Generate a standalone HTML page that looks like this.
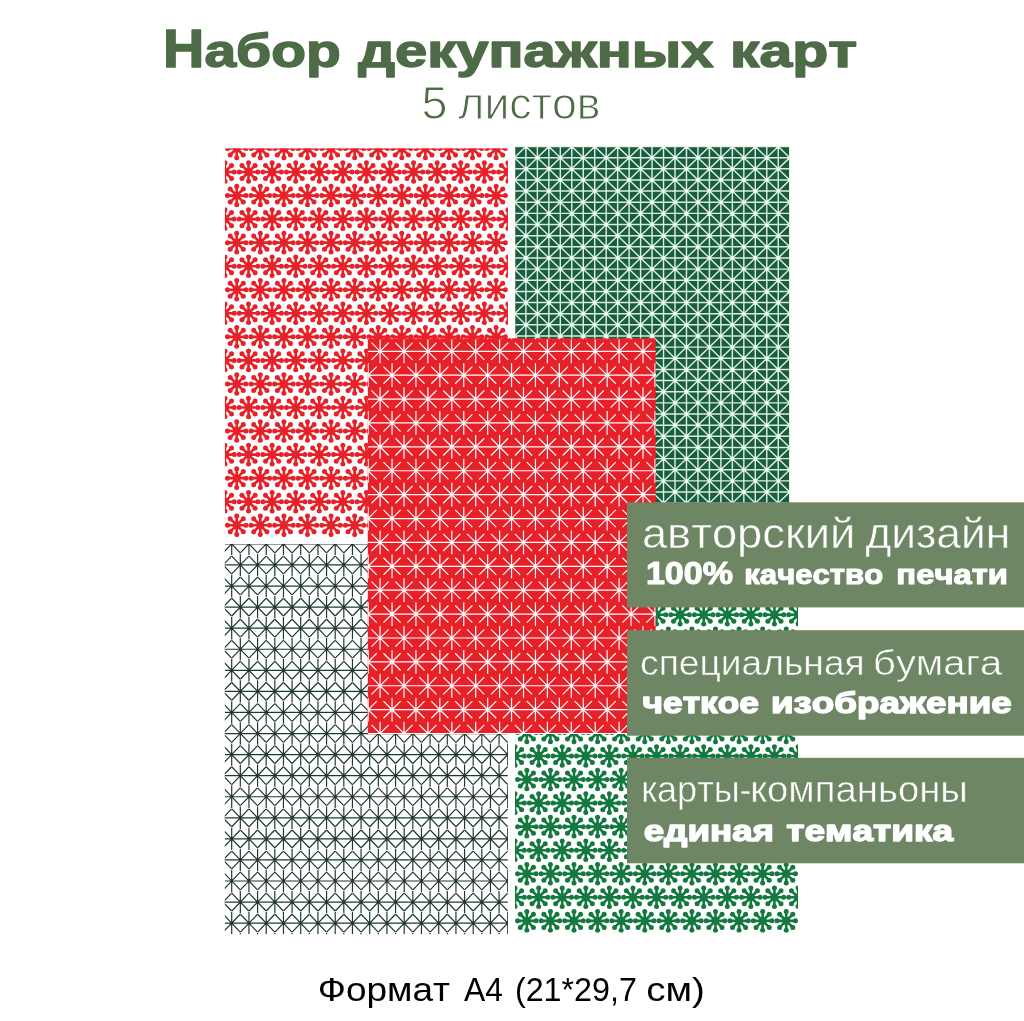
<!DOCTYPE html>
<html lang="ru"><head><meta charset="utf-8"><title>Набор декупажных карт</title>
<style>
html,body{margin:0;padding:0;background:#fff}
svg{display:block}
text{font-family:"Liberation Sans",sans-serif;stroke-linejoin:round;font-kerning:none;white-space:pre}
</style></head><body>
<svg width="1024" height="1021" viewBox="0 0 1024 1021">
<defs>
<g id="fl"><path d="M0 0L9.29 0M0 0L6.57 6.57M0 0L0 9.29M0 0L-6.57 6.57M0 0L-9.29 0M0 0L-6.57 -6.57M0 0L-0 -9.29M0 0L6.57 -6.57" stroke-width="2.65" fill="none"/><g stroke="none"><circle cx="9.29" cy="0" r="2.5"/><circle cx="6.57" cy="6.57" r="2.5"/><circle cx="0" cy="9.29" r="2.5"/><circle cx="-6.57" cy="6.57" r="2.5"/><circle cx="-9.29" cy="0" r="2.5"/><circle cx="-6.57" cy="-6.57" r="2.5"/><circle cx="-0" cy="-9.29" r="2.5"/><circle cx="6.57" cy="-6.57" r="2.5"/><circle r="3.9"/></g></g>
<g id="sc"><path d="M0 -11.9V11.9M-8.6 -8.6L8.6 8.6M-8.6 8.6L8.6 -8.6" stroke-width="1.2" fill="none"/><circle r="1.5" stroke="none"/></g>
<g id="sk"><path d="M0 -11.2V11.2M-8.55 -8.9L8.55 8.9M-8.55 8.9L8.55 -8.9" stroke-width="1.2" fill="none"/><circle r="1.4" stroke="none"/></g>
</defs>
<rect width="1024" height="1021" fill="#fff"/>
<clipPath id="cTL"><rect x="224.95" y="148.45" width="282.95" height="388.55"/></clipPath><g clip-path="url(#cTL)" fill="#e82129" stroke="#e82129"><use href="#fl" x="236.74" y="148.45"/><use href="#fl" x="260.32" y="148.45"/><use href="#fl" x="283.9" y="148.45"/><use href="#fl" x="307.48" y="148.45"/><use href="#fl" x="331.06" y="148.45"/><use href="#fl" x="354.64" y="148.45"/><use href="#fl" x="378.22" y="148.45"/><use href="#fl" x="401.8" y="148.45"/><use href="#fl" x="425.38" y="148.45"/><use href="#fl" x="448.96" y="148.45"/><use href="#fl" x="472.54" y="148.45"/><use href="#fl" x="496.12" y="148.45"/><use href="#fl" x="519.7" y="148.45"/><use href="#fl" x="224.95" y="172"/><use href="#fl" x="248.53" y="172"/><use href="#fl" x="272.11" y="172"/><use href="#fl" x="295.69" y="172"/><use href="#fl" x="319.27" y="172"/><use href="#fl" x="342.85" y="172"/><use href="#fl" x="366.43" y="172"/><use href="#fl" x="390.01" y="172"/><use href="#fl" x="413.59" y="172"/><use href="#fl" x="437.17" y="172"/><use href="#fl" x="460.75" y="172"/><use href="#fl" x="484.33" y="172"/><use href="#fl" x="507.91" y="172"/><use href="#fl" x="236.74" y="195.55"/><use href="#fl" x="260.32" y="195.55"/><use href="#fl" x="283.9" y="195.55"/><use href="#fl" x="307.48" y="195.55"/><use href="#fl" x="331.06" y="195.55"/><use href="#fl" x="354.64" y="195.55"/><use href="#fl" x="378.22" y="195.55"/><use href="#fl" x="401.8" y="195.55"/><use href="#fl" x="425.38" y="195.55"/><use href="#fl" x="448.96" y="195.55"/><use href="#fl" x="472.54" y="195.55"/><use href="#fl" x="496.12" y="195.55"/><use href="#fl" x="519.7" y="195.55"/><use href="#fl" x="224.95" y="219.1"/><use href="#fl" x="248.53" y="219.1"/><use href="#fl" x="272.11" y="219.1"/><use href="#fl" x="295.69" y="219.1"/><use href="#fl" x="319.27" y="219.1"/><use href="#fl" x="342.85" y="219.1"/><use href="#fl" x="366.43" y="219.1"/><use href="#fl" x="390.01" y="219.1"/><use href="#fl" x="413.59" y="219.1"/><use href="#fl" x="437.17" y="219.1"/><use href="#fl" x="460.75" y="219.1"/><use href="#fl" x="484.33" y="219.1"/><use href="#fl" x="507.91" y="219.1"/><use href="#fl" x="236.74" y="242.65"/><use href="#fl" x="260.32" y="242.65"/><use href="#fl" x="283.9" y="242.65"/><use href="#fl" x="307.48" y="242.65"/><use href="#fl" x="331.06" y="242.65"/><use href="#fl" x="354.64" y="242.65"/><use href="#fl" x="378.22" y="242.65"/><use href="#fl" x="401.8" y="242.65"/><use href="#fl" x="425.38" y="242.65"/><use href="#fl" x="448.96" y="242.65"/><use href="#fl" x="472.54" y="242.65"/><use href="#fl" x="496.12" y="242.65"/><use href="#fl" x="519.7" y="242.65"/><use href="#fl" x="224.95" y="266.2"/><use href="#fl" x="248.53" y="266.2"/><use href="#fl" x="272.11" y="266.2"/><use href="#fl" x="295.69" y="266.2"/><use href="#fl" x="319.27" y="266.2"/><use href="#fl" x="342.85" y="266.2"/><use href="#fl" x="366.43" y="266.2"/><use href="#fl" x="390.01" y="266.2"/><use href="#fl" x="413.59" y="266.2"/><use href="#fl" x="437.17" y="266.2"/><use href="#fl" x="460.75" y="266.2"/><use href="#fl" x="484.33" y="266.2"/><use href="#fl" x="507.91" y="266.2"/><use href="#fl" x="236.74" y="289.75"/><use href="#fl" x="260.32" y="289.75"/><use href="#fl" x="283.9" y="289.75"/><use href="#fl" x="307.48" y="289.75"/><use href="#fl" x="331.06" y="289.75"/><use href="#fl" x="354.64" y="289.75"/><use href="#fl" x="378.22" y="289.75"/><use href="#fl" x="401.8" y="289.75"/><use href="#fl" x="425.38" y="289.75"/><use href="#fl" x="448.96" y="289.75"/><use href="#fl" x="472.54" y="289.75"/><use href="#fl" x="496.12" y="289.75"/><use href="#fl" x="519.7" y="289.75"/><use href="#fl" x="224.95" y="313.3"/><use href="#fl" x="248.53" y="313.3"/><use href="#fl" x="272.11" y="313.3"/><use href="#fl" x="295.69" y="313.3"/><use href="#fl" x="319.27" y="313.3"/><use href="#fl" x="342.85" y="313.3"/><use href="#fl" x="366.43" y="313.3"/><use href="#fl" x="390.01" y="313.3"/><use href="#fl" x="413.59" y="313.3"/><use href="#fl" x="437.17" y="313.3"/><use href="#fl" x="460.75" y="313.3"/><use href="#fl" x="484.33" y="313.3"/><use href="#fl" x="507.91" y="313.3"/><use href="#fl" x="236.74" y="336.85"/><use href="#fl" x="260.32" y="336.85"/><use href="#fl" x="283.9" y="336.85"/><use href="#fl" x="307.48" y="336.85"/><use href="#fl" x="331.06" y="336.85"/><use href="#fl" x="354.64" y="336.85"/><use href="#fl" x="378.22" y="336.85"/><use href="#fl" x="401.8" y="336.85"/><use href="#fl" x="425.38" y="336.85"/><use href="#fl" x="448.96" y="336.85"/><use href="#fl" x="472.54" y="336.85"/><use href="#fl" x="496.12" y="336.85"/><use href="#fl" x="519.7" y="336.85"/><use href="#fl" x="224.95" y="360.4"/><use href="#fl" x="248.53" y="360.4"/><use href="#fl" x="272.11" y="360.4"/><use href="#fl" x="295.69" y="360.4"/><use href="#fl" x="319.27" y="360.4"/><use href="#fl" x="342.85" y="360.4"/><use href="#fl" x="366.43" y="360.4"/><use href="#fl" x="390.01" y="360.4"/><use href="#fl" x="413.59" y="360.4"/><use href="#fl" x="437.17" y="360.4"/><use href="#fl" x="460.75" y="360.4"/><use href="#fl" x="484.33" y="360.4"/><use href="#fl" x="507.91" y="360.4"/><use href="#fl" x="236.74" y="383.95"/><use href="#fl" x="260.32" y="383.95"/><use href="#fl" x="283.9" y="383.95"/><use href="#fl" x="307.48" y="383.95"/><use href="#fl" x="331.06" y="383.95"/><use href="#fl" x="354.64" y="383.95"/><use href="#fl" x="378.22" y="383.95"/><use href="#fl" x="401.8" y="383.95"/><use href="#fl" x="425.38" y="383.95"/><use href="#fl" x="448.96" y="383.95"/><use href="#fl" x="472.54" y="383.95"/><use href="#fl" x="496.12" y="383.95"/><use href="#fl" x="519.7" y="383.95"/><use href="#fl" x="224.95" y="407.5"/><use href="#fl" x="248.53" y="407.5"/><use href="#fl" x="272.11" y="407.5"/><use href="#fl" x="295.69" y="407.5"/><use href="#fl" x="319.27" y="407.5"/><use href="#fl" x="342.85" y="407.5"/><use href="#fl" x="366.43" y="407.5"/><use href="#fl" x="390.01" y="407.5"/><use href="#fl" x="413.59" y="407.5"/><use href="#fl" x="437.17" y="407.5"/><use href="#fl" x="460.75" y="407.5"/><use href="#fl" x="484.33" y="407.5"/><use href="#fl" x="507.91" y="407.5"/><use href="#fl" x="236.74" y="431.05"/><use href="#fl" x="260.32" y="431.05"/><use href="#fl" x="283.9" y="431.05"/><use href="#fl" x="307.48" y="431.05"/><use href="#fl" x="331.06" y="431.05"/><use href="#fl" x="354.64" y="431.05"/><use href="#fl" x="378.22" y="431.05"/><use href="#fl" x="401.8" y="431.05"/><use href="#fl" x="425.38" y="431.05"/><use href="#fl" x="448.96" y="431.05"/><use href="#fl" x="472.54" y="431.05"/><use href="#fl" x="496.12" y="431.05"/><use href="#fl" x="519.7" y="431.05"/><use href="#fl" x="224.95" y="454.6"/><use href="#fl" x="248.53" y="454.6"/><use href="#fl" x="272.11" y="454.6"/><use href="#fl" x="295.69" y="454.6"/><use href="#fl" x="319.27" y="454.6"/><use href="#fl" x="342.85" y="454.6"/><use href="#fl" x="366.43" y="454.6"/><use href="#fl" x="390.01" y="454.6"/><use href="#fl" x="413.59" y="454.6"/><use href="#fl" x="437.17" y="454.6"/><use href="#fl" x="460.75" y="454.6"/><use href="#fl" x="484.33" y="454.6"/><use href="#fl" x="507.91" y="454.6"/><use href="#fl" x="236.74" y="478.15"/><use href="#fl" x="260.32" y="478.15"/><use href="#fl" x="283.9" y="478.15"/><use href="#fl" x="307.48" y="478.15"/><use href="#fl" x="331.06" y="478.15"/><use href="#fl" x="354.64" y="478.15"/><use href="#fl" x="378.22" y="478.15"/><use href="#fl" x="401.8" y="478.15"/><use href="#fl" x="425.38" y="478.15"/><use href="#fl" x="448.96" y="478.15"/><use href="#fl" x="472.54" y="478.15"/><use href="#fl" x="496.12" y="478.15"/><use href="#fl" x="519.7" y="478.15"/><use href="#fl" x="224.95" y="501.7"/><use href="#fl" x="248.53" y="501.7"/><use href="#fl" x="272.11" y="501.7"/><use href="#fl" x="295.69" y="501.7"/><use href="#fl" x="319.27" y="501.7"/><use href="#fl" x="342.85" y="501.7"/><use href="#fl" x="366.43" y="501.7"/><use href="#fl" x="390.01" y="501.7"/><use href="#fl" x="413.59" y="501.7"/><use href="#fl" x="437.17" y="501.7"/><use href="#fl" x="460.75" y="501.7"/><use href="#fl" x="484.33" y="501.7"/><use href="#fl" x="507.91" y="501.7"/><use href="#fl" x="236.74" y="525.25"/><use href="#fl" x="260.32" y="525.25"/><use href="#fl" x="283.9" y="525.25"/><use href="#fl" x="307.48" y="525.25"/><use href="#fl" x="331.06" y="525.25"/><use href="#fl" x="354.64" y="525.25"/><use href="#fl" x="378.22" y="525.25"/><use href="#fl" x="401.8" y="525.25"/><use href="#fl" x="425.38" y="525.25"/><use href="#fl" x="448.96" y="525.25"/><use href="#fl" x="472.54" y="525.25"/><use href="#fl" x="496.12" y="525.25"/><use href="#fl" x="519.7" y="525.25"/></g>
<clipPath id="cTR"><rect x="515.2" y="146.9" width="273.9" height="390.1"/></clipPath><rect x="515.2" y="146.9" width="273.9" height="390.1" fill="#1c5b3b"/><g clip-path="url(#cTR)" fill="none"><path d="M502.96 146.9V537M514.43 146.9V537M525.9 146.9V537M537.37 146.9V537M548.84 146.9V537M560.31 146.9V537M571.78 146.9V537M583.25 146.9V537M594.72 146.9V537M606.19 146.9V537M617.66 146.9V537M629.13 146.9V537M640.6 146.9V537M652.07 146.9V537M663.54 146.9V537M675.01 146.9V537M686.48 146.9V537M697.95 146.9V537M709.42 146.9V537M720.89 146.9V537M732.36 146.9V537M743.83 146.9V537M755.3 146.9V537M766.77 146.9V537M778.24 146.9V537M789.71 146.9V537M515.2 135.36H789.1M515.2 146.51H789.1M515.2 157.65H789.1M515.2 168.8H789.1M515.2 179.95H789.1M515.2 191.09H789.1M515.2 202.24H789.1M515.2 213.38H789.1M515.2 224.53H789.1M515.2 235.68H789.1M515.2 246.82H789.1M515.2 257.97H789.1M515.2 269.11H789.1M515.2 280.26H789.1M515.2 291.41H789.1M515.2 302.55H789.1M515.2 313.7H789.1M515.2 324.84H789.1M515.2 335.99H789.1M515.2 347.14H789.1M515.2 358.28H789.1M515.2 369.43H789.1M515.2 380.57H789.1M515.2 391.72H789.1M515.2 402.87H789.1M515.2 414.01H789.1M515.2 425.16H789.1M515.2 436.3H789.1M515.2 447.45H789.1M515.2 458.6H789.1M515.2 469.74H789.1M515.2 480.89H789.1M515.2 492.03H789.1M515.2 503.18H789.1M515.2 514.33H789.1M515.2 525.47H789.1M515.2 536.62H789.1M515.2 547.76H789.1M-265.13 135.75L159.25 548.15M-197.11 135.75L-621.49 548.15M-242.19 135.75L182.19 548.15M-174.17 135.75L-598.55 548.15M-219.25 135.75L205.13 548.15M-151.23 135.75L-575.61 548.15M-196.31 135.75L228.07 548.15M-128.29 135.75L-552.67 548.15M-173.37 135.75L251.01 548.15M-105.35 135.75L-529.73 548.15M-150.43 135.75L273.95 548.15M-82.41 135.75L-506.79 548.15M-127.49 135.75L296.89 548.15M-59.47 135.75L-483.85 548.15M-104.55 135.75L319.83 548.15M-36.53 135.75L-460.91 548.15M-81.61 135.75L342.77 548.15M-13.59 135.75L-437.97 548.15M-58.67 135.75L365.71 548.15M9.35 135.75L-415.03 548.15M-35.73 135.75L388.65 548.15M32.29 135.75L-392.09 548.15M-12.79 135.75L411.59 548.15M55.23 135.75L-369.15 548.15M10.15 135.75L434.53 548.15M78.17 135.75L-346.21 548.15M33.09 135.75L457.47 548.15M101.11 135.75L-323.27 548.15M56.03 135.75L480.41 548.15M124.05 135.75L-300.33 548.15M78.97 135.75L503.35 548.15M146.99 135.75L-277.39 548.15M101.91 135.75L526.29 548.15M169.93 135.75L-254.45 548.15M124.85 135.75L549.23 548.15M192.87 135.75L-231.51 548.15M147.79 135.75L572.17 548.15M215.81 135.75L-208.57 548.15M170.73 135.75L595.11 548.15M238.75 135.75L-185.63 548.15M193.67 135.75L618.05 548.15M261.69 135.75L-162.69 548.15M216.61 135.75L640.99 548.15M284.63 135.75L-139.75 548.15M239.55 135.75L663.93 548.15M307.57 135.75L-116.81 548.15M262.49 135.75L686.87 548.15M330.51 135.75L-93.87 548.15M285.43 135.75L709.81 548.15M353.45 135.75L-70.93 548.15M308.37 135.75L732.75 548.15M376.39 135.75L-47.99 548.15M331.31 135.75L755.69 548.15M399.33 135.75L-25.05 548.15M354.25 135.75L778.63 548.15M422.27 135.75L-2.11 548.15M377.19 135.75L801.57 548.15M445.21 135.75L20.83 548.15M400.13 135.75L824.51 548.15M468.15 135.75L43.77 548.15M423.07 135.75L847.45 548.15M491.09 135.75L66.71 548.15M446.01 135.75L870.39 548.15M514.03 135.75L89.65 548.15M468.95 135.75L893.33 548.15M536.97 135.75L112.59 548.15M491.89 135.75L916.27 548.15M559.91 135.75L135.53 548.15M514.83 135.75L939.21 548.15M582.85 135.75L158.47 548.15M537.77 135.75L962.15 548.15M605.79 135.75L181.41 548.15M560.71 135.75L985.09 548.15M628.73 135.75L204.35 548.15M583.65 135.75L1008.03 548.15M651.67 135.75L227.29 548.15M606.59 135.75L1030.97 548.15M674.61 135.75L250.23 548.15M629.53 135.75L1053.91 548.15M697.55 135.75L273.17 548.15M652.47 135.75L1076.85 548.15M720.49 135.75L296.11 548.15M675.41 135.75L1099.79 548.15M743.43 135.75L319.05 548.15M698.35 135.75L1122.73 548.15M766.37 135.75L341.99 548.15M721.29 135.75L1145.67 548.15M789.31 135.75L364.93 548.15M744.23 135.75L1168.61 548.15M812.25 135.75L387.87 548.15M767.17 135.75L1191.55 548.15M835.19 135.75L410.81 548.15M790.11 135.75L1214.49 548.15M858.13 135.75L433.75 548.15M813.05 135.75L1237.43 548.15M881.07 135.75L456.69 548.15M835.99 135.75L1260.37 548.15M904.01 135.75L479.63 548.15M858.93 135.75L1283.31 548.15M926.95 135.75L502.57 548.15M881.87 135.75L1306.25 548.15M949.89 135.75L525.51 548.15M904.81 135.75L1329.19 548.15M972.83 135.75L548.45 548.15M927.75 135.75L1352.13 548.15M995.77 135.75L571.39 548.15M950.69 135.75L1375.07 548.15M1018.71 135.75L594.33 548.15M973.63 135.75L1398.01 548.15M1041.65 135.75L617.27 548.15M996.57 135.75L1420.95 548.15M1064.59 135.75L640.21 548.15M1019.51 135.75L1443.89 548.15M1087.53 135.75L663.15 548.15M1042.45 135.75L1466.83 548.15M1110.47 135.75L686.09 548.15M1065.39 135.75L1489.77 548.15M1133.41 135.75L709.03 548.15M1088.33 135.75L1512.71 548.15M1156.35 135.75L731.97 548.15M1111.27 135.75L1535.65 548.15M1179.29 135.75L754.91 548.15M1134.21 135.75L1558.59 548.15M1202.23 135.75L777.85 548.15M1157.15 135.75L1581.53 548.15M1225.17 135.75L800.79 548.15M1180.09 135.75L1604.47 548.15M1248.11 135.75L823.73 548.15M1203.03 135.75L1627.41 548.15M1271.05 135.75L846.67 548.15M1225.97 135.75L1650.35 548.15M1293.99 135.75L869.61 548.15M1248.91 135.75L1673.29 548.15M1316.93 135.75L892.55 548.15" stroke="#d4f1e2" stroke-width="1.45"/><path d="M525.9 146.51h0M548.84 146.51h0M571.78 146.51h0M594.72 146.51h0M617.66 146.51h0M640.6 146.51h0M663.54 146.51h0M686.48 146.51h0M709.42 146.51h0M732.36 146.51h0M755.3 146.51h0M778.24 146.51h0M514.43 157.65h0M537.37 157.65h0M560.31 157.65h0M583.25 157.65h0M606.19 157.65h0M629.13 157.65h0M652.07 157.65h0M675.01 157.65h0M697.95 157.65h0M720.89 157.65h0M743.83 157.65h0M766.77 157.65h0M789.71 157.65h0M525.9 168.8h0M548.84 168.8h0M571.78 168.8h0M594.72 168.8h0M617.66 168.8h0M640.6 168.8h0M663.54 168.8h0M686.48 168.8h0M709.42 168.8h0M732.36 168.8h0M755.3 168.8h0M778.24 168.8h0M514.43 179.95h0M537.37 179.95h0M560.31 179.95h0M583.25 179.95h0M606.19 179.95h0M629.13 179.95h0M652.07 179.95h0M675.01 179.95h0M697.95 179.95h0M720.89 179.95h0M743.83 179.95h0M766.77 179.95h0M789.71 179.95h0M525.9 191.09h0M548.84 191.09h0M571.78 191.09h0M594.72 191.09h0M617.66 191.09h0M640.6 191.09h0M663.54 191.09h0M686.48 191.09h0M709.42 191.09h0M732.36 191.09h0M755.3 191.09h0M778.24 191.09h0M514.43 202.24h0M537.37 202.24h0M560.31 202.24h0M583.25 202.24h0M606.19 202.24h0M629.13 202.24h0M652.07 202.24h0M675.01 202.24h0M697.95 202.24h0M720.89 202.24h0M743.83 202.24h0M766.77 202.24h0M789.71 202.24h0M525.9 213.38h0M548.84 213.38h0M571.78 213.38h0M594.72 213.38h0M617.66 213.38h0M640.6 213.38h0M663.54 213.38h0M686.48 213.38h0M709.42 213.38h0M732.36 213.38h0M755.3 213.38h0M778.24 213.38h0M514.43 224.53h0M537.37 224.53h0M560.31 224.53h0M583.25 224.53h0M606.19 224.53h0M629.13 224.53h0M652.07 224.53h0M675.01 224.53h0M697.95 224.53h0M720.89 224.53h0M743.83 224.53h0M766.77 224.53h0M789.71 224.53h0M525.9 235.68h0M548.84 235.68h0M571.78 235.68h0M594.72 235.68h0M617.66 235.68h0M640.6 235.68h0M663.54 235.68h0M686.48 235.68h0M709.42 235.68h0M732.36 235.68h0M755.3 235.68h0M778.24 235.68h0M514.43 246.82h0M537.37 246.82h0M560.31 246.82h0M583.25 246.82h0M606.19 246.82h0M629.13 246.82h0M652.07 246.82h0M675.01 246.82h0M697.95 246.82h0M720.89 246.82h0M743.83 246.82h0M766.77 246.82h0M789.71 246.82h0M525.9 257.97h0M548.84 257.97h0M571.78 257.97h0M594.72 257.97h0M617.66 257.97h0M640.6 257.97h0M663.54 257.97h0M686.48 257.97h0M709.42 257.97h0M732.36 257.97h0M755.3 257.97h0M778.24 257.97h0M514.43 269.11h0M537.37 269.11h0M560.31 269.11h0M583.25 269.11h0M606.19 269.11h0M629.13 269.11h0M652.07 269.11h0M675.01 269.11h0M697.95 269.11h0M720.89 269.11h0M743.83 269.11h0M766.77 269.11h0M789.71 269.11h0M525.9 280.26h0M548.84 280.26h0M571.78 280.26h0M594.72 280.26h0M617.66 280.26h0M640.6 280.26h0M663.54 280.26h0M686.48 280.26h0M709.42 280.26h0M732.36 280.26h0M755.3 280.26h0M778.24 280.26h0M514.43 291.41h0M537.37 291.41h0M560.31 291.41h0M583.25 291.41h0M606.19 291.41h0M629.13 291.41h0M652.07 291.41h0M675.01 291.41h0M697.95 291.41h0M720.89 291.41h0M743.83 291.41h0M766.77 291.41h0M789.71 291.41h0M525.9 302.55h0M548.84 302.55h0M571.78 302.55h0M594.72 302.55h0M617.66 302.55h0M640.6 302.55h0M663.54 302.55h0M686.48 302.55h0M709.42 302.55h0M732.36 302.55h0M755.3 302.55h0M778.24 302.55h0M514.43 313.7h0M537.37 313.7h0M560.31 313.7h0M583.25 313.7h0M606.19 313.7h0M629.13 313.7h0M652.07 313.7h0M675.01 313.7h0M697.95 313.7h0M720.89 313.7h0M743.83 313.7h0M766.77 313.7h0M789.71 313.7h0M525.9 324.84h0M548.84 324.84h0M571.78 324.84h0M594.72 324.84h0M617.66 324.84h0M640.6 324.84h0M663.54 324.84h0M686.48 324.84h0M709.42 324.84h0M732.36 324.84h0M755.3 324.84h0M778.24 324.84h0M514.43 335.99h0M537.37 335.99h0M560.31 335.99h0M583.25 335.99h0M606.19 335.99h0M629.13 335.99h0M652.07 335.99h0M675.01 335.99h0M697.95 335.99h0M720.89 335.99h0M743.83 335.99h0M766.77 335.99h0M789.71 335.99h0M525.9 347.14h0M548.84 347.14h0M571.78 347.14h0M594.72 347.14h0M617.66 347.14h0M640.6 347.14h0M663.54 347.14h0M686.48 347.14h0M709.42 347.14h0M732.36 347.14h0M755.3 347.14h0M778.24 347.14h0M514.43 358.28h0M537.37 358.28h0M560.31 358.28h0M583.25 358.28h0M606.19 358.28h0M629.13 358.28h0M652.07 358.28h0M675.01 358.28h0M697.95 358.28h0M720.89 358.28h0M743.83 358.28h0M766.77 358.28h0M789.71 358.28h0M525.9 369.43h0M548.84 369.43h0M571.78 369.43h0M594.72 369.43h0M617.66 369.43h0M640.6 369.43h0M663.54 369.43h0M686.48 369.43h0M709.42 369.43h0M732.36 369.43h0M755.3 369.43h0M778.24 369.43h0M514.43 380.57h0M537.37 380.57h0M560.31 380.57h0M583.25 380.57h0M606.19 380.57h0M629.13 380.57h0M652.07 380.57h0M675.01 380.57h0M697.95 380.57h0M720.89 380.57h0M743.83 380.57h0M766.77 380.57h0M789.71 380.57h0M525.9 391.72h0M548.84 391.72h0M571.78 391.72h0M594.72 391.72h0M617.66 391.72h0M640.6 391.72h0M663.54 391.72h0M686.48 391.72h0M709.42 391.72h0M732.36 391.72h0M755.3 391.72h0M778.24 391.72h0M514.43 402.87h0M537.37 402.87h0M560.31 402.87h0M583.25 402.87h0M606.19 402.87h0M629.13 402.87h0M652.07 402.87h0M675.01 402.87h0M697.95 402.87h0M720.89 402.87h0M743.83 402.87h0M766.77 402.87h0M789.71 402.87h0M525.9 414.01h0M548.84 414.01h0M571.78 414.01h0M594.72 414.01h0M617.66 414.01h0M640.6 414.01h0M663.54 414.01h0M686.48 414.01h0M709.42 414.01h0M732.36 414.01h0M755.3 414.01h0M778.24 414.01h0M514.43 425.16h0M537.37 425.16h0M560.31 425.16h0M583.25 425.16h0M606.19 425.16h0M629.13 425.16h0M652.07 425.16h0M675.01 425.16h0M697.95 425.16h0M720.89 425.16h0M743.83 425.16h0M766.77 425.16h0M789.71 425.16h0M525.9 436.3h0M548.84 436.3h0M571.78 436.3h0M594.72 436.3h0M617.66 436.3h0M640.6 436.3h0M663.54 436.3h0M686.48 436.3h0M709.42 436.3h0M732.36 436.3h0M755.3 436.3h0M778.24 436.3h0M514.43 447.45h0M537.37 447.45h0M560.31 447.45h0M583.25 447.45h0M606.19 447.45h0M629.13 447.45h0M652.07 447.45h0M675.01 447.45h0M697.95 447.45h0M720.89 447.45h0M743.83 447.45h0M766.77 447.45h0M789.71 447.45h0M525.9 458.6h0M548.84 458.6h0M571.78 458.6h0M594.72 458.6h0M617.66 458.6h0M640.6 458.6h0M663.54 458.6h0M686.48 458.6h0M709.42 458.6h0M732.36 458.6h0M755.3 458.6h0M778.24 458.6h0M514.43 469.74h0M537.37 469.74h0M560.31 469.74h0M583.25 469.74h0M606.19 469.74h0M629.13 469.74h0M652.07 469.74h0M675.01 469.74h0M697.95 469.74h0M720.89 469.74h0M743.83 469.74h0M766.77 469.74h0M789.71 469.74h0M525.9 480.89h0M548.84 480.89h0M571.78 480.89h0M594.72 480.89h0M617.66 480.89h0M640.6 480.89h0M663.54 480.89h0M686.48 480.89h0M709.42 480.89h0M732.36 480.89h0M755.3 480.89h0M778.24 480.89h0M514.43 492.03h0M537.37 492.03h0M560.31 492.03h0M583.25 492.03h0M606.19 492.03h0M629.13 492.03h0M652.07 492.03h0M675.01 492.03h0M697.95 492.03h0M720.89 492.03h0M743.83 492.03h0M766.77 492.03h0M789.71 492.03h0M525.9 503.18h0M548.84 503.18h0M571.78 503.18h0M594.72 503.18h0M617.66 503.18h0M640.6 503.18h0M663.54 503.18h0M686.48 503.18h0M709.42 503.18h0M732.36 503.18h0M755.3 503.18h0M778.24 503.18h0M514.43 514.33h0M537.37 514.33h0M560.31 514.33h0M583.25 514.33h0M606.19 514.33h0M629.13 514.33h0M652.07 514.33h0M675.01 514.33h0M697.95 514.33h0M720.89 514.33h0M743.83 514.33h0M766.77 514.33h0M789.71 514.33h0M525.9 525.47h0M548.84 525.47h0M571.78 525.47h0M594.72 525.47h0M617.66 525.47h0M640.6 525.47h0M663.54 525.47h0M686.48 525.47h0M709.42 525.47h0M732.36 525.47h0M755.3 525.47h0M778.24 525.47h0M514.43 536.62h0M537.37 536.62h0M560.31 536.62h0M583.25 536.62h0M606.19 536.62h0M629.13 536.62h0M652.07 536.62h0M675.01 536.62h0M697.95 536.62h0M720.89 536.62h0M743.83 536.62h0M766.77 536.62h0M789.71 536.62h0" stroke="#fff" stroke-width="3.2" stroke-linecap="round"/></g>
<clipPath id="cBL"><rect x="224.8" y="543.9" width="283.1" height="390.3"/></clipPath><g clip-path="url(#cBL)" fill="#1f3a2c" stroke="#1f3a2c"><path d="M224.8 522.83H507.9M224.8 543.9H507.9M224.8 564.97H507.9M224.8 586.04H507.9M224.8 607.11H507.9M224.8 628.18H507.9M224.8 649.25H507.9M224.8 670.32H507.9M224.8 691.39H507.9M224.8 712.46H507.9M224.8 733.53H507.9M224.8 754.6H507.9M224.8 775.67H507.9M224.8 796.74H507.9M224.8 817.81H507.9M224.8 838.88H507.9M224.8 859.95H507.9M224.8 881.02H507.9M224.8 902.09H507.9M224.8 923.16H507.9M224.8 944.23H507.9" stroke-width="1.2" fill="none"/><use href="#sk" x="205.82" y="522.83"/><use href="#sk" x="223.07" y="522.83"/><use href="#sk" x="240.32" y="522.83"/><use href="#sk" x="257.57" y="522.83"/><use href="#sk" x="274.82" y="522.83"/><use href="#sk" x="292.07" y="522.83"/><use href="#sk" x="309.32" y="522.83"/><use href="#sk" x="326.57" y="522.83"/><use href="#sk" x="343.82" y="522.83"/><use href="#sk" x="361.07" y="522.83"/><use href="#sk" x="378.32" y="522.83"/><use href="#sk" x="395.57" y="522.83"/><use href="#sk" x="412.82" y="522.83"/><use href="#sk" x="430.07" y="522.83"/><use href="#sk" x="447.32" y="522.83"/><use href="#sk" x="464.57" y="522.83"/><use href="#sk" x="481.82" y="522.83"/><use href="#sk" x="499.07" y="522.83"/><use href="#sk" x="516.33" y="522.83"/><use href="#sk" x="197.2" y="543.9"/><use href="#sk" x="214.45" y="543.9"/><use href="#sk" x="231.7" y="543.9"/><use href="#sk" x="248.95" y="543.9"/><use href="#sk" x="266.2" y="543.9"/><use href="#sk" x="283.45" y="543.9"/><use href="#sk" x="300.7" y="543.9"/><use href="#sk" x="317.95" y="543.9"/><use href="#sk" x="335.2" y="543.9"/><use href="#sk" x="352.45" y="543.9"/><use href="#sk" x="369.7" y="543.9"/><use href="#sk" x="386.95" y="543.9"/><use href="#sk" x="404.2" y="543.9"/><use href="#sk" x="421.45" y="543.9"/><use href="#sk" x="438.7" y="543.9"/><use href="#sk" x="455.95" y="543.9"/><use href="#sk" x="473.2" y="543.9"/><use href="#sk" x="490.45" y="543.9"/><use href="#sk" x="507.7" y="543.9"/><use href="#sk" x="524.95" y="543.9"/><use href="#sk" x="205.82" y="564.97"/><use href="#sk" x="223.07" y="564.97"/><use href="#sk" x="240.32" y="564.97"/><use href="#sk" x="257.57" y="564.97"/><use href="#sk" x="274.82" y="564.97"/><use href="#sk" x="292.07" y="564.97"/><use href="#sk" x="309.32" y="564.97"/><use href="#sk" x="326.57" y="564.97"/><use href="#sk" x="343.82" y="564.97"/><use href="#sk" x="361.07" y="564.97"/><use href="#sk" x="378.32" y="564.97"/><use href="#sk" x="395.57" y="564.97"/><use href="#sk" x="412.82" y="564.97"/><use href="#sk" x="430.07" y="564.97"/><use href="#sk" x="447.32" y="564.97"/><use href="#sk" x="464.57" y="564.97"/><use href="#sk" x="481.82" y="564.97"/><use href="#sk" x="499.07" y="564.97"/><use href="#sk" x="516.33" y="564.97"/><use href="#sk" x="197.2" y="586.04"/><use href="#sk" x="214.45" y="586.04"/><use href="#sk" x="231.7" y="586.04"/><use href="#sk" x="248.95" y="586.04"/><use href="#sk" x="266.2" y="586.04"/><use href="#sk" x="283.45" y="586.04"/><use href="#sk" x="300.7" y="586.04"/><use href="#sk" x="317.95" y="586.04"/><use href="#sk" x="335.2" y="586.04"/><use href="#sk" x="352.45" y="586.04"/><use href="#sk" x="369.7" y="586.04"/><use href="#sk" x="386.95" y="586.04"/><use href="#sk" x="404.2" y="586.04"/><use href="#sk" x="421.45" y="586.04"/><use href="#sk" x="438.7" y="586.04"/><use href="#sk" x="455.95" y="586.04"/><use href="#sk" x="473.2" y="586.04"/><use href="#sk" x="490.45" y="586.04"/><use href="#sk" x="507.7" y="586.04"/><use href="#sk" x="524.95" y="586.04"/><use href="#sk" x="205.82" y="607.11"/><use href="#sk" x="223.07" y="607.11"/><use href="#sk" x="240.32" y="607.11"/><use href="#sk" x="257.57" y="607.11"/><use href="#sk" x="274.82" y="607.11"/><use href="#sk" x="292.07" y="607.11"/><use href="#sk" x="309.32" y="607.11"/><use href="#sk" x="326.57" y="607.11"/><use href="#sk" x="343.82" y="607.11"/><use href="#sk" x="361.07" y="607.11"/><use href="#sk" x="378.32" y="607.11"/><use href="#sk" x="395.57" y="607.11"/><use href="#sk" x="412.82" y="607.11"/><use href="#sk" x="430.07" y="607.11"/><use href="#sk" x="447.32" y="607.11"/><use href="#sk" x="464.57" y="607.11"/><use href="#sk" x="481.82" y="607.11"/><use href="#sk" x="499.07" y="607.11"/><use href="#sk" x="516.33" y="607.11"/><use href="#sk" x="197.2" y="628.18"/><use href="#sk" x="214.45" y="628.18"/><use href="#sk" x="231.7" y="628.18"/><use href="#sk" x="248.95" y="628.18"/><use href="#sk" x="266.2" y="628.18"/><use href="#sk" x="283.45" y="628.18"/><use href="#sk" x="300.7" y="628.18"/><use href="#sk" x="317.95" y="628.18"/><use href="#sk" x="335.2" y="628.18"/><use href="#sk" x="352.45" y="628.18"/><use href="#sk" x="369.7" y="628.18"/><use href="#sk" x="386.95" y="628.18"/><use href="#sk" x="404.2" y="628.18"/><use href="#sk" x="421.45" y="628.18"/><use href="#sk" x="438.7" y="628.18"/><use href="#sk" x="455.95" y="628.18"/><use href="#sk" x="473.2" y="628.18"/><use href="#sk" x="490.45" y="628.18"/><use href="#sk" x="507.7" y="628.18"/><use href="#sk" x="524.95" y="628.18"/><use href="#sk" x="205.82" y="649.25"/><use href="#sk" x="223.07" y="649.25"/><use href="#sk" x="240.32" y="649.25"/><use href="#sk" x="257.57" y="649.25"/><use href="#sk" x="274.82" y="649.25"/><use href="#sk" x="292.07" y="649.25"/><use href="#sk" x="309.32" y="649.25"/><use href="#sk" x="326.57" y="649.25"/><use href="#sk" x="343.82" y="649.25"/><use href="#sk" x="361.07" y="649.25"/><use href="#sk" x="378.32" y="649.25"/><use href="#sk" x="395.57" y="649.25"/><use href="#sk" x="412.82" y="649.25"/><use href="#sk" x="430.07" y="649.25"/><use href="#sk" x="447.32" y="649.25"/><use href="#sk" x="464.57" y="649.25"/><use href="#sk" x="481.82" y="649.25"/><use href="#sk" x="499.07" y="649.25"/><use href="#sk" x="516.33" y="649.25"/><use href="#sk" x="197.2" y="670.32"/><use href="#sk" x="214.45" y="670.32"/><use href="#sk" x="231.7" y="670.32"/><use href="#sk" x="248.95" y="670.32"/><use href="#sk" x="266.2" y="670.32"/><use href="#sk" x="283.45" y="670.32"/><use href="#sk" x="300.7" y="670.32"/><use href="#sk" x="317.95" y="670.32"/><use href="#sk" x="335.2" y="670.32"/><use href="#sk" x="352.45" y="670.32"/><use href="#sk" x="369.7" y="670.32"/><use href="#sk" x="386.95" y="670.32"/><use href="#sk" x="404.2" y="670.32"/><use href="#sk" x="421.45" y="670.32"/><use href="#sk" x="438.7" y="670.32"/><use href="#sk" x="455.95" y="670.32"/><use href="#sk" x="473.2" y="670.32"/><use href="#sk" x="490.45" y="670.32"/><use href="#sk" x="507.7" y="670.32"/><use href="#sk" x="524.95" y="670.32"/><use href="#sk" x="205.82" y="691.39"/><use href="#sk" x="223.07" y="691.39"/><use href="#sk" x="240.32" y="691.39"/><use href="#sk" x="257.57" y="691.39"/><use href="#sk" x="274.82" y="691.39"/><use href="#sk" x="292.07" y="691.39"/><use href="#sk" x="309.32" y="691.39"/><use href="#sk" x="326.57" y="691.39"/><use href="#sk" x="343.82" y="691.39"/><use href="#sk" x="361.07" y="691.39"/><use href="#sk" x="378.32" y="691.39"/><use href="#sk" x="395.57" y="691.39"/><use href="#sk" x="412.82" y="691.39"/><use href="#sk" x="430.07" y="691.39"/><use href="#sk" x="447.32" y="691.39"/><use href="#sk" x="464.57" y="691.39"/><use href="#sk" x="481.82" y="691.39"/><use href="#sk" x="499.07" y="691.39"/><use href="#sk" x="516.33" y="691.39"/><use href="#sk" x="197.2" y="712.46"/><use href="#sk" x="214.45" y="712.46"/><use href="#sk" x="231.7" y="712.46"/><use href="#sk" x="248.95" y="712.46"/><use href="#sk" x="266.2" y="712.46"/><use href="#sk" x="283.45" y="712.46"/><use href="#sk" x="300.7" y="712.46"/><use href="#sk" x="317.95" y="712.46"/><use href="#sk" x="335.2" y="712.46"/><use href="#sk" x="352.45" y="712.46"/><use href="#sk" x="369.7" y="712.46"/><use href="#sk" x="386.95" y="712.46"/><use href="#sk" x="404.2" y="712.46"/><use href="#sk" x="421.45" y="712.46"/><use href="#sk" x="438.7" y="712.46"/><use href="#sk" x="455.95" y="712.46"/><use href="#sk" x="473.2" y="712.46"/><use href="#sk" x="490.45" y="712.46"/><use href="#sk" x="507.7" y="712.46"/><use href="#sk" x="524.95" y="712.46"/><use href="#sk" x="205.82" y="733.53"/><use href="#sk" x="223.07" y="733.53"/><use href="#sk" x="240.32" y="733.53"/><use href="#sk" x="257.57" y="733.53"/><use href="#sk" x="274.82" y="733.53"/><use href="#sk" x="292.07" y="733.53"/><use href="#sk" x="309.32" y="733.53"/><use href="#sk" x="326.57" y="733.53"/><use href="#sk" x="343.82" y="733.53"/><use href="#sk" x="361.07" y="733.53"/><use href="#sk" x="378.32" y="733.53"/><use href="#sk" x="395.57" y="733.53"/><use href="#sk" x="412.82" y="733.53"/><use href="#sk" x="430.07" y="733.53"/><use href="#sk" x="447.32" y="733.53"/><use href="#sk" x="464.57" y="733.53"/><use href="#sk" x="481.82" y="733.53"/><use href="#sk" x="499.07" y="733.53"/><use href="#sk" x="516.33" y="733.53"/><use href="#sk" x="197.2" y="754.6"/><use href="#sk" x="214.45" y="754.6"/><use href="#sk" x="231.7" y="754.6"/><use href="#sk" x="248.95" y="754.6"/><use href="#sk" x="266.2" y="754.6"/><use href="#sk" x="283.45" y="754.6"/><use href="#sk" x="300.7" y="754.6"/><use href="#sk" x="317.95" y="754.6"/><use href="#sk" x="335.2" y="754.6"/><use href="#sk" x="352.45" y="754.6"/><use href="#sk" x="369.7" y="754.6"/><use href="#sk" x="386.95" y="754.6"/><use href="#sk" x="404.2" y="754.6"/><use href="#sk" x="421.45" y="754.6"/><use href="#sk" x="438.7" y="754.6"/><use href="#sk" x="455.95" y="754.6"/><use href="#sk" x="473.2" y="754.6"/><use href="#sk" x="490.45" y="754.6"/><use href="#sk" x="507.7" y="754.6"/><use href="#sk" x="524.95" y="754.6"/><use href="#sk" x="205.82" y="775.67"/><use href="#sk" x="223.07" y="775.67"/><use href="#sk" x="240.32" y="775.67"/><use href="#sk" x="257.57" y="775.67"/><use href="#sk" x="274.82" y="775.67"/><use href="#sk" x="292.07" y="775.67"/><use href="#sk" x="309.32" y="775.67"/><use href="#sk" x="326.57" y="775.67"/><use href="#sk" x="343.82" y="775.67"/><use href="#sk" x="361.07" y="775.67"/><use href="#sk" x="378.32" y="775.67"/><use href="#sk" x="395.57" y="775.67"/><use href="#sk" x="412.82" y="775.67"/><use href="#sk" x="430.07" y="775.67"/><use href="#sk" x="447.32" y="775.67"/><use href="#sk" x="464.57" y="775.67"/><use href="#sk" x="481.82" y="775.67"/><use href="#sk" x="499.07" y="775.67"/><use href="#sk" x="516.33" y="775.67"/><use href="#sk" x="197.2" y="796.74"/><use href="#sk" x="214.45" y="796.74"/><use href="#sk" x="231.7" y="796.74"/><use href="#sk" x="248.95" y="796.74"/><use href="#sk" x="266.2" y="796.74"/><use href="#sk" x="283.45" y="796.74"/><use href="#sk" x="300.7" y="796.74"/><use href="#sk" x="317.95" y="796.74"/><use href="#sk" x="335.2" y="796.74"/><use href="#sk" x="352.45" y="796.74"/><use href="#sk" x="369.7" y="796.74"/><use href="#sk" x="386.95" y="796.74"/><use href="#sk" x="404.2" y="796.74"/><use href="#sk" x="421.45" y="796.74"/><use href="#sk" x="438.7" y="796.74"/><use href="#sk" x="455.95" y="796.74"/><use href="#sk" x="473.2" y="796.74"/><use href="#sk" x="490.45" y="796.74"/><use href="#sk" x="507.7" y="796.74"/><use href="#sk" x="524.95" y="796.74"/><use href="#sk" x="205.82" y="817.81"/><use href="#sk" x="223.07" y="817.81"/><use href="#sk" x="240.32" y="817.81"/><use href="#sk" x="257.57" y="817.81"/><use href="#sk" x="274.82" y="817.81"/><use href="#sk" x="292.07" y="817.81"/><use href="#sk" x="309.32" y="817.81"/><use href="#sk" x="326.57" y="817.81"/><use href="#sk" x="343.82" y="817.81"/><use href="#sk" x="361.07" y="817.81"/><use href="#sk" x="378.32" y="817.81"/><use href="#sk" x="395.57" y="817.81"/><use href="#sk" x="412.82" y="817.81"/><use href="#sk" x="430.07" y="817.81"/><use href="#sk" x="447.32" y="817.81"/><use href="#sk" x="464.57" y="817.81"/><use href="#sk" x="481.82" y="817.81"/><use href="#sk" x="499.07" y="817.81"/><use href="#sk" x="516.33" y="817.81"/><use href="#sk" x="197.2" y="838.88"/><use href="#sk" x="214.45" y="838.88"/><use href="#sk" x="231.7" y="838.88"/><use href="#sk" x="248.95" y="838.88"/><use href="#sk" x="266.2" y="838.88"/><use href="#sk" x="283.45" y="838.88"/><use href="#sk" x="300.7" y="838.88"/><use href="#sk" x="317.95" y="838.88"/><use href="#sk" x="335.2" y="838.88"/><use href="#sk" x="352.45" y="838.88"/><use href="#sk" x="369.7" y="838.88"/><use href="#sk" x="386.95" y="838.88"/><use href="#sk" x="404.2" y="838.88"/><use href="#sk" x="421.45" y="838.88"/><use href="#sk" x="438.7" y="838.88"/><use href="#sk" x="455.95" y="838.88"/><use href="#sk" x="473.2" y="838.88"/><use href="#sk" x="490.45" y="838.88"/><use href="#sk" x="507.7" y="838.88"/><use href="#sk" x="524.95" y="838.88"/><use href="#sk" x="205.82" y="859.95"/><use href="#sk" x="223.07" y="859.95"/><use href="#sk" x="240.32" y="859.95"/><use href="#sk" x="257.57" y="859.95"/><use href="#sk" x="274.82" y="859.95"/><use href="#sk" x="292.07" y="859.95"/><use href="#sk" x="309.32" y="859.95"/><use href="#sk" x="326.57" y="859.95"/><use href="#sk" x="343.82" y="859.95"/><use href="#sk" x="361.07" y="859.95"/><use href="#sk" x="378.32" y="859.95"/><use href="#sk" x="395.57" y="859.95"/><use href="#sk" x="412.82" y="859.95"/><use href="#sk" x="430.07" y="859.95"/><use href="#sk" x="447.32" y="859.95"/><use href="#sk" x="464.57" y="859.95"/><use href="#sk" x="481.82" y="859.95"/><use href="#sk" x="499.07" y="859.95"/><use href="#sk" x="516.33" y="859.95"/><use href="#sk" x="197.2" y="881.02"/><use href="#sk" x="214.45" y="881.02"/><use href="#sk" x="231.7" y="881.02"/><use href="#sk" x="248.95" y="881.02"/><use href="#sk" x="266.2" y="881.02"/><use href="#sk" x="283.45" y="881.02"/><use href="#sk" x="300.7" y="881.02"/><use href="#sk" x="317.95" y="881.02"/><use href="#sk" x="335.2" y="881.02"/><use href="#sk" x="352.45" y="881.02"/><use href="#sk" x="369.7" y="881.02"/><use href="#sk" x="386.95" y="881.02"/><use href="#sk" x="404.2" y="881.02"/><use href="#sk" x="421.45" y="881.02"/><use href="#sk" x="438.7" y="881.02"/><use href="#sk" x="455.95" y="881.02"/><use href="#sk" x="473.2" y="881.02"/><use href="#sk" x="490.45" y="881.02"/><use href="#sk" x="507.7" y="881.02"/><use href="#sk" x="524.95" y="881.02"/><use href="#sk" x="205.82" y="902.09"/><use href="#sk" x="223.07" y="902.09"/><use href="#sk" x="240.32" y="902.09"/><use href="#sk" x="257.57" y="902.09"/><use href="#sk" x="274.82" y="902.09"/><use href="#sk" x="292.07" y="902.09"/><use href="#sk" x="309.32" y="902.09"/><use href="#sk" x="326.57" y="902.09"/><use href="#sk" x="343.82" y="902.09"/><use href="#sk" x="361.07" y="902.09"/><use href="#sk" x="378.32" y="902.09"/><use href="#sk" x="395.57" y="902.09"/><use href="#sk" x="412.82" y="902.09"/><use href="#sk" x="430.07" y="902.09"/><use href="#sk" x="447.32" y="902.09"/><use href="#sk" x="464.57" y="902.09"/><use href="#sk" x="481.82" y="902.09"/><use href="#sk" x="499.07" y="902.09"/><use href="#sk" x="516.33" y="902.09"/><use href="#sk" x="197.2" y="923.16"/><use href="#sk" x="214.45" y="923.16"/><use href="#sk" x="231.7" y="923.16"/><use href="#sk" x="248.95" y="923.16"/><use href="#sk" x="266.2" y="923.16"/><use href="#sk" x="283.45" y="923.16"/><use href="#sk" x="300.7" y="923.16"/><use href="#sk" x="317.95" y="923.16"/><use href="#sk" x="335.2" y="923.16"/><use href="#sk" x="352.45" y="923.16"/><use href="#sk" x="369.7" y="923.16"/><use href="#sk" x="386.95" y="923.16"/><use href="#sk" x="404.2" y="923.16"/><use href="#sk" x="421.45" y="923.16"/><use href="#sk" x="438.7" y="923.16"/><use href="#sk" x="455.95" y="923.16"/><use href="#sk" x="473.2" y="923.16"/><use href="#sk" x="490.45" y="923.16"/><use href="#sk" x="507.7" y="923.16"/><use href="#sk" x="524.95" y="923.16"/><use href="#sk" x="205.82" y="944.23"/><use href="#sk" x="223.07" y="944.23"/><use href="#sk" x="240.32" y="944.23"/><use href="#sk" x="257.57" y="944.23"/><use href="#sk" x="274.82" y="944.23"/><use href="#sk" x="292.07" y="944.23"/><use href="#sk" x="309.32" y="944.23"/><use href="#sk" x="326.57" y="944.23"/><use href="#sk" x="343.82" y="944.23"/><use href="#sk" x="361.07" y="944.23"/><use href="#sk" x="378.32" y="944.23"/><use href="#sk" x="395.57" y="944.23"/><use href="#sk" x="412.82" y="944.23"/><use href="#sk" x="430.07" y="944.23"/><use href="#sk" x="447.32" y="944.23"/><use href="#sk" x="464.57" y="944.23"/><use href="#sk" x="481.82" y="944.23"/><use href="#sk" x="499.07" y="944.23"/><use href="#sk" x="516.33" y="944.23"/></g>
<clipPath id="cBR"><rect x="515.05" y="544.05" width="282.95" height="388.75"/></clipPath><g clip-path="url(#cBR)" fill="#13793f" stroke="#13793f"><use href="#fl" x="526.84" y="544.05"/><use href="#fl" x="550.42" y="544.05"/><use href="#fl" x="574" y="544.05"/><use href="#fl" x="597.58" y="544.05"/><use href="#fl" x="621.16" y="544.05"/><use href="#fl" x="644.74" y="544.05"/><use href="#fl" x="668.32" y="544.05"/><use href="#fl" x="691.9" y="544.05"/><use href="#fl" x="715.48" y="544.05"/><use href="#fl" x="739.06" y="544.05"/><use href="#fl" x="762.64" y="544.05"/><use href="#fl" x="786.22" y="544.05"/><use href="#fl" x="809.8" y="544.05"/><use href="#fl" x="515.05" y="567.6"/><use href="#fl" x="538.63" y="567.6"/><use href="#fl" x="562.21" y="567.6"/><use href="#fl" x="585.79" y="567.6"/><use href="#fl" x="609.37" y="567.6"/><use href="#fl" x="632.95" y="567.6"/><use href="#fl" x="656.53" y="567.6"/><use href="#fl" x="680.11" y="567.6"/><use href="#fl" x="703.69" y="567.6"/><use href="#fl" x="727.27" y="567.6"/><use href="#fl" x="750.85" y="567.6"/><use href="#fl" x="774.43" y="567.6"/><use href="#fl" x="798.01" y="567.6"/><use href="#fl" x="526.84" y="591.15"/><use href="#fl" x="550.42" y="591.15"/><use href="#fl" x="574" y="591.15"/><use href="#fl" x="597.58" y="591.15"/><use href="#fl" x="621.16" y="591.15"/><use href="#fl" x="644.74" y="591.15"/><use href="#fl" x="668.32" y="591.15"/><use href="#fl" x="691.9" y="591.15"/><use href="#fl" x="715.48" y="591.15"/><use href="#fl" x="739.06" y="591.15"/><use href="#fl" x="762.64" y="591.15"/><use href="#fl" x="786.22" y="591.15"/><use href="#fl" x="809.8" y="591.15"/><use href="#fl" x="515.05" y="614.7"/><use href="#fl" x="538.63" y="614.7"/><use href="#fl" x="562.21" y="614.7"/><use href="#fl" x="585.79" y="614.7"/><use href="#fl" x="609.37" y="614.7"/><use href="#fl" x="632.95" y="614.7"/><use href="#fl" x="656.53" y="614.7"/><use href="#fl" x="680.11" y="614.7"/><use href="#fl" x="703.69" y="614.7"/><use href="#fl" x="727.27" y="614.7"/><use href="#fl" x="750.85" y="614.7"/><use href="#fl" x="774.43" y="614.7"/><use href="#fl" x="798.01" y="614.7"/><use href="#fl" x="526.84" y="638.25"/><use href="#fl" x="550.42" y="638.25"/><use href="#fl" x="574" y="638.25"/><use href="#fl" x="597.58" y="638.25"/><use href="#fl" x="621.16" y="638.25"/><use href="#fl" x="644.74" y="638.25"/><use href="#fl" x="668.32" y="638.25"/><use href="#fl" x="691.9" y="638.25"/><use href="#fl" x="715.48" y="638.25"/><use href="#fl" x="739.06" y="638.25"/><use href="#fl" x="762.64" y="638.25"/><use href="#fl" x="786.22" y="638.25"/><use href="#fl" x="809.8" y="638.25"/><use href="#fl" x="515.05" y="661.8"/><use href="#fl" x="538.63" y="661.8"/><use href="#fl" x="562.21" y="661.8"/><use href="#fl" x="585.79" y="661.8"/><use href="#fl" x="609.37" y="661.8"/><use href="#fl" x="632.95" y="661.8"/><use href="#fl" x="656.53" y="661.8"/><use href="#fl" x="680.11" y="661.8"/><use href="#fl" x="703.69" y="661.8"/><use href="#fl" x="727.27" y="661.8"/><use href="#fl" x="750.85" y="661.8"/><use href="#fl" x="774.43" y="661.8"/><use href="#fl" x="798.01" y="661.8"/><use href="#fl" x="526.84" y="685.35"/><use href="#fl" x="550.42" y="685.35"/><use href="#fl" x="574" y="685.35"/><use href="#fl" x="597.58" y="685.35"/><use href="#fl" x="621.16" y="685.35"/><use href="#fl" x="644.74" y="685.35"/><use href="#fl" x="668.32" y="685.35"/><use href="#fl" x="691.9" y="685.35"/><use href="#fl" x="715.48" y="685.35"/><use href="#fl" x="739.06" y="685.35"/><use href="#fl" x="762.64" y="685.35"/><use href="#fl" x="786.22" y="685.35"/><use href="#fl" x="809.8" y="685.35"/><use href="#fl" x="515.05" y="708.9"/><use href="#fl" x="538.63" y="708.9"/><use href="#fl" x="562.21" y="708.9"/><use href="#fl" x="585.79" y="708.9"/><use href="#fl" x="609.37" y="708.9"/><use href="#fl" x="632.95" y="708.9"/><use href="#fl" x="656.53" y="708.9"/><use href="#fl" x="680.11" y="708.9"/><use href="#fl" x="703.69" y="708.9"/><use href="#fl" x="727.27" y="708.9"/><use href="#fl" x="750.85" y="708.9"/><use href="#fl" x="774.43" y="708.9"/><use href="#fl" x="798.01" y="708.9"/><use href="#fl" x="526.84" y="732.45"/><use href="#fl" x="550.42" y="732.45"/><use href="#fl" x="574" y="732.45"/><use href="#fl" x="597.58" y="732.45"/><use href="#fl" x="621.16" y="732.45"/><use href="#fl" x="644.74" y="732.45"/><use href="#fl" x="668.32" y="732.45"/><use href="#fl" x="691.9" y="732.45"/><use href="#fl" x="715.48" y="732.45"/><use href="#fl" x="739.06" y="732.45"/><use href="#fl" x="762.64" y="732.45"/><use href="#fl" x="786.22" y="732.45"/><use href="#fl" x="809.8" y="732.45"/><use href="#fl" x="515.05" y="756"/><use href="#fl" x="538.63" y="756"/><use href="#fl" x="562.21" y="756"/><use href="#fl" x="585.79" y="756"/><use href="#fl" x="609.37" y="756"/><use href="#fl" x="632.95" y="756"/><use href="#fl" x="656.53" y="756"/><use href="#fl" x="680.11" y="756"/><use href="#fl" x="703.69" y="756"/><use href="#fl" x="727.27" y="756"/><use href="#fl" x="750.85" y="756"/><use href="#fl" x="774.43" y="756"/><use href="#fl" x="798.01" y="756"/><use href="#fl" x="526.84" y="779.55"/><use href="#fl" x="550.42" y="779.55"/><use href="#fl" x="574" y="779.55"/><use href="#fl" x="597.58" y="779.55"/><use href="#fl" x="621.16" y="779.55"/><use href="#fl" x="644.74" y="779.55"/><use href="#fl" x="668.32" y="779.55"/><use href="#fl" x="691.9" y="779.55"/><use href="#fl" x="715.48" y="779.55"/><use href="#fl" x="739.06" y="779.55"/><use href="#fl" x="762.64" y="779.55"/><use href="#fl" x="786.22" y="779.55"/><use href="#fl" x="809.8" y="779.55"/><use href="#fl" x="515.05" y="803.1"/><use href="#fl" x="538.63" y="803.1"/><use href="#fl" x="562.21" y="803.1"/><use href="#fl" x="585.79" y="803.1"/><use href="#fl" x="609.37" y="803.1"/><use href="#fl" x="632.95" y="803.1"/><use href="#fl" x="656.53" y="803.1"/><use href="#fl" x="680.11" y="803.1"/><use href="#fl" x="703.69" y="803.1"/><use href="#fl" x="727.27" y="803.1"/><use href="#fl" x="750.85" y="803.1"/><use href="#fl" x="774.43" y="803.1"/><use href="#fl" x="798.01" y="803.1"/><use href="#fl" x="526.84" y="826.65"/><use href="#fl" x="550.42" y="826.65"/><use href="#fl" x="574" y="826.65"/><use href="#fl" x="597.58" y="826.65"/><use href="#fl" x="621.16" y="826.65"/><use href="#fl" x="644.74" y="826.65"/><use href="#fl" x="668.32" y="826.65"/><use href="#fl" x="691.9" y="826.65"/><use href="#fl" x="715.48" y="826.65"/><use href="#fl" x="739.06" y="826.65"/><use href="#fl" x="762.64" y="826.65"/><use href="#fl" x="786.22" y="826.65"/><use href="#fl" x="809.8" y="826.65"/><use href="#fl" x="515.05" y="850.2"/><use href="#fl" x="538.63" y="850.2"/><use href="#fl" x="562.21" y="850.2"/><use href="#fl" x="585.79" y="850.2"/><use href="#fl" x="609.37" y="850.2"/><use href="#fl" x="632.95" y="850.2"/><use href="#fl" x="656.53" y="850.2"/><use href="#fl" x="680.11" y="850.2"/><use href="#fl" x="703.69" y="850.2"/><use href="#fl" x="727.27" y="850.2"/><use href="#fl" x="750.85" y="850.2"/><use href="#fl" x="774.43" y="850.2"/><use href="#fl" x="798.01" y="850.2"/><use href="#fl" x="526.84" y="873.75"/><use href="#fl" x="550.42" y="873.75"/><use href="#fl" x="574" y="873.75"/><use href="#fl" x="597.58" y="873.75"/><use href="#fl" x="621.16" y="873.75"/><use href="#fl" x="644.74" y="873.75"/><use href="#fl" x="668.32" y="873.75"/><use href="#fl" x="691.9" y="873.75"/><use href="#fl" x="715.48" y="873.75"/><use href="#fl" x="739.06" y="873.75"/><use href="#fl" x="762.64" y="873.75"/><use href="#fl" x="786.22" y="873.75"/><use href="#fl" x="809.8" y="873.75"/><use href="#fl" x="515.05" y="897.3"/><use href="#fl" x="538.63" y="897.3"/><use href="#fl" x="562.21" y="897.3"/><use href="#fl" x="585.79" y="897.3"/><use href="#fl" x="609.37" y="897.3"/><use href="#fl" x="632.95" y="897.3"/><use href="#fl" x="656.53" y="897.3"/><use href="#fl" x="680.11" y="897.3"/><use href="#fl" x="703.69" y="897.3"/><use href="#fl" x="727.27" y="897.3"/><use href="#fl" x="750.85" y="897.3"/><use href="#fl" x="774.43" y="897.3"/><use href="#fl" x="798.01" y="897.3"/><use href="#fl" x="526.84" y="920.85"/><use href="#fl" x="550.42" y="920.85"/><use href="#fl" x="574" y="920.85"/><use href="#fl" x="597.58" y="920.85"/><use href="#fl" x="621.16" y="920.85"/><use href="#fl" x="644.74" y="920.85"/><use href="#fl" x="668.32" y="920.85"/><use href="#fl" x="691.9" y="920.85"/><use href="#fl" x="715.48" y="920.85"/><use href="#fl" x="739.06" y="920.85"/><use href="#fl" x="762.64" y="920.85"/><use href="#fl" x="786.22" y="920.85"/><use href="#fl" x="809.8" y="920.85"/></g>
<clipPath id="cC"><rect x="367.8" y="338.3" width="287.9" height="395.7"/></clipPath><rect x="367.8" y="338.3" width="287.9" height="395.7" fill="#e82129"/><g clip-path="url(#cC)" fill="#fff" stroke="#fff"><path d="M367.8 303.52H655.7M367.8 327.41H655.7M367.8 351.3H655.7M367.8 375.19H655.7M367.8 399.08H655.7M367.8 422.97H655.7M367.8 446.86H655.7M367.8 470.75H655.7M367.8 494.64H655.7M367.8 518.53H655.7M367.8 542.42H655.7M367.8 566.31H655.7M367.8 590.2H655.7M367.8 614.09H655.7M367.8 637.98H655.7M367.8 661.87H655.7M367.8 685.76H655.7M367.8 709.65H655.7M367.8 733.54H655.7M367.8 757.43H655.7" stroke-width="1.2" fill="none"/><use href="#sc" x="332.3" y="303.52"/><use href="#sc" x="356.2" y="303.52"/><use href="#sc" x="380.1" y="303.52"/><use href="#sc" x="404" y="303.52"/><use href="#sc" x="427.9" y="303.52"/><use href="#sc" x="451.8" y="303.52"/><use href="#sc" x="475.7" y="303.52"/><use href="#sc" x="499.6" y="303.52"/><use href="#sc" x="523.5" y="303.52"/><use href="#sc" x="547.4" y="303.52"/><use href="#sc" x="571.3" y="303.52"/><use href="#sc" x="595.2" y="303.52"/><use href="#sc" x="619.1" y="303.52"/><use href="#sc" x="643" y="303.52"/><use href="#sc" x="666.9" y="303.52"/><use href="#sc" x="320.35" y="327.41"/><use href="#sc" x="344.25" y="327.41"/><use href="#sc" x="368.15" y="327.41"/><use href="#sc" x="392.05" y="327.41"/><use href="#sc" x="415.95" y="327.41"/><use href="#sc" x="439.85" y="327.41"/><use href="#sc" x="463.75" y="327.41"/><use href="#sc" x="487.65" y="327.41"/><use href="#sc" x="511.55" y="327.41"/><use href="#sc" x="535.45" y="327.41"/><use href="#sc" x="559.35" y="327.41"/><use href="#sc" x="583.25" y="327.41"/><use href="#sc" x="607.15" y="327.41"/><use href="#sc" x="631.05" y="327.41"/><use href="#sc" x="654.95" y="327.41"/><use href="#sc" x="678.85" y="327.41"/><use href="#sc" x="332.3" y="351.3"/><use href="#sc" x="356.2" y="351.3"/><use href="#sc" x="380.1" y="351.3"/><use href="#sc" x="404" y="351.3"/><use href="#sc" x="427.9" y="351.3"/><use href="#sc" x="451.8" y="351.3"/><use href="#sc" x="475.7" y="351.3"/><use href="#sc" x="499.6" y="351.3"/><use href="#sc" x="523.5" y="351.3"/><use href="#sc" x="547.4" y="351.3"/><use href="#sc" x="571.3" y="351.3"/><use href="#sc" x="595.2" y="351.3"/><use href="#sc" x="619.1" y="351.3"/><use href="#sc" x="643" y="351.3"/><use href="#sc" x="666.9" y="351.3"/><use href="#sc" x="320.35" y="375.19"/><use href="#sc" x="344.25" y="375.19"/><use href="#sc" x="368.15" y="375.19"/><use href="#sc" x="392.05" y="375.19"/><use href="#sc" x="415.95" y="375.19"/><use href="#sc" x="439.85" y="375.19"/><use href="#sc" x="463.75" y="375.19"/><use href="#sc" x="487.65" y="375.19"/><use href="#sc" x="511.55" y="375.19"/><use href="#sc" x="535.45" y="375.19"/><use href="#sc" x="559.35" y="375.19"/><use href="#sc" x="583.25" y="375.19"/><use href="#sc" x="607.15" y="375.19"/><use href="#sc" x="631.05" y="375.19"/><use href="#sc" x="654.95" y="375.19"/><use href="#sc" x="678.85" y="375.19"/><use href="#sc" x="332.3" y="399.08"/><use href="#sc" x="356.2" y="399.08"/><use href="#sc" x="380.1" y="399.08"/><use href="#sc" x="404" y="399.08"/><use href="#sc" x="427.9" y="399.08"/><use href="#sc" x="451.8" y="399.08"/><use href="#sc" x="475.7" y="399.08"/><use href="#sc" x="499.6" y="399.08"/><use href="#sc" x="523.5" y="399.08"/><use href="#sc" x="547.4" y="399.08"/><use href="#sc" x="571.3" y="399.08"/><use href="#sc" x="595.2" y="399.08"/><use href="#sc" x="619.1" y="399.08"/><use href="#sc" x="643" y="399.08"/><use href="#sc" x="666.9" y="399.08"/><use href="#sc" x="320.35" y="422.97"/><use href="#sc" x="344.25" y="422.97"/><use href="#sc" x="368.15" y="422.97"/><use href="#sc" x="392.05" y="422.97"/><use href="#sc" x="415.95" y="422.97"/><use href="#sc" x="439.85" y="422.97"/><use href="#sc" x="463.75" y="422.97"/><use href="#sc" x="487.65" y="422.97"/><use href="#sc" x="511.55" y="422.97"/><use href="#sc" x="535.45" y="422.97"/><use href="#sc" x="559.35" y="422.97"/><use href="#sc" x="583.25" y="422.97"/><use href="#sc" x="607.15" y="422.97"/><use href="#sc" x="631.05" y="422.97"/><use href="#sc" x="654.95" y="422.97"/><use href="#sc" x="678.85" y="422.97"/><use href="#sc" x="332.3" y="446.86"/><use href="#sc" x="356.2" y="446.86"/><use href="#sc" x="380.1" y="446.86"/><use href="#sc" x="404" y="446.86"/><use href="#sc" x="427.9" y="446.86"/><use href="#sc" x="451.8" y="446.86"/><use href="#sc" x="475.7" y="446.86"/><use href="#sc" x="499.6" y="446.86"/><use href="#sc" x="523.5" y="446.86"/><use href="#sc" x="547.4" y="446.86"/><use href="#sc" x="571.3" y="446.86"/><use href="#sc" x="595.2" y="446.86"/><use href="#sc" x="619.1" y="446.86"/><use href="#sc" x="643" y="446.86"/><use href="#sc" x="666.9" y="446.86"/><use href="#sc" x="320.35" y="470.75"/><use href="#sc" x="344.25" y="470.75"/><use href="#sc" x="368.15" y="470.75"/><use href="#sc" x="392.05" y="470.75"/><use href="#sc" x="415.95" y="470.75"/><use href="#sc" x="439.85" y="470.75"/><use href="#sc" x="463.75" y="470.75"/><use href="#sc" x="487.65" y="470.75"/><use href="#sc" x="511.55" y="470.75"/><use href="#sc" x="535.45" y="470.75"/><use href="#sc" x="559.35" y="470.75"/><use href="#sc" x="583.25" y="470.75"/><use href="#sc" x="607.15" y="470.75"/><use href="#sc" x="631.05" y="470.75"/><use href="#sc" x="654.95" y="470.75"/><use href="#sc" x="678.85" y="470.75"/><use href="#sc" x="332.3" y="494.64"/><use href="#sc" x="356.2" y="494.64"/><use href="#sc" x="380.1" y="494.64"/><use href="#sc" x="404" y="494.64"/><use href="#sc" x="427.9" y="494.64"/><use href="#sc" x="451.8" y="494.64"/><use href="#sc" x="475.7" y="494.64"/><use href="#sc" x="499.6" y="494.64"/><use href="#sc" x="523.5" y="494.64"/><use href="#sc" x="547.4" y="494.64"/><use href="#sc" x="571.3" y="494.64"/><use href="#sc" x="595.2" y="494.64"/><use href="#sc" x="619.1" y="494.64"/><use href="#sc" x="643" y="494.64"/><use href="#sc" x="666.9" y="494.64"/><use href="#sc" x="320.35" y="518.53"/><use href="#sc" x="344.25" y="518.53"/><use href="#sc" x="368.15" y="518.53"/><use href="#sc" x="392.05" y="518.53"/><use href="#sc" x="415.95" y="518.53"/><use href="#sc" x="439.85" y="518.53"/><use href="#sc" x="463.75" y="518.53"/><use href="#sc" x="487.65" y="518.53"/><use href="#sc" x="511.55" y="518.53"/><use href="#sc" x="535.45" y="518.53"/><use href="#sc" x="559.35" y="518.53"/><use href="#sc" x="583.25" y="518.53"/><use href="#sc" x="607.15" y="518.53"/><use href="#sc" x="631.05" y="518.53"/><use href="#sc" x="654.95" y="518.53"/><use href="#sc" x="678.85" y="518.53"/><use href="#sc" x="332.3" y="542.42"/><use href="#sc" x="356.2" y="542.42"/><use href="#sc" x="380.1" y="542.42"/><use href="#sc" x="404" y="542.42"/><use href="#sc" x="427.9" y="542.42"/><use href="#sc" x="451.8" y="542.42"/><use href="#sc" x="475.7" y="542.42"/><use href="#sc" x="499.6" y="542.42"/><use href="#sc" x="523.5" y="542.42"/><use href="#sc" x="547.4" y="542.42"/><use href="#sc" x="571.3" y="542.42"/><use href="#sc" x="595.2" y="542.42"/><use href="#sc" x="619.1" y="542.42"/><use href="#sc" x="643" y="542.42"/><use href="#sc" x="666.9" y="542.42"/><use href="#sc" x="320.35" y="566.31"/><use href="#sc" x="344.25" y="566.31"/><use href="#sc" x="368.15" y="566.31"/><use href="#sc" x="392.05" y="566.31"/><use href="#sc" x="415.95" y="566.31"/><use href="#sc" x="439.85" y="566.31"/><use href="#sc" x="463.75" y="566.31"/><use href="#sc" x="487.65" y="566.31"/><use href="#sc" x="511.55" y="566.31"/><use href="#sc" x="535.45" y="566.31"/><use href="#sc" x="559.35" y="566.31"/><use href="#sc" x="583.25" y="566.31"/><use href="#sc" x="607.15" y="566.31"/><use href="#sc" x="631.05" y="566.31"/><use href="#sc" x="654.95" y="566.31"/><use href="#sc" x="678.85" y="566.31"/><use href="#sc" x="332.3" y="590.2"/><use href="#sc" x="356.2" y="590.2"/><use href="#sc" x="380.1" y="590.2"/><use href="#sc" x="404" y="590.2"/><use href="#sc" x="427.9" y="590.2"/><use href="#sc" x="451.8" y="590.2"/><use href="#sc" x="475.7" y="590.2"/><use href="#sc" x="499.6" y="590.2"/><use href="#sc" x="523.5" y="590.2"/><use href="#sc" x="547.4" y="590.2"/><use href="#sc" x="571.3" y="590.2"/><use href="#sc" x="595.2" y="590.2"/><use href="#sc" x="619.1" y="590.2"/><use href="#sc" x="643" y="590.2"/><use href="#sc" x="666.9" y="590.2"/><use href="#sc" x="320.35" y="614.09"/><use href="#sc" x="344.25" y="614.09"/><use href="#sc" x="368.15" y="614.09"/><use href="#sc" x="392.05" y="614.09"/><use href="#sc" x="415.95" y="614.09"/><use href="#sc" x="439.85" y="614.09"/><use href="#sc" x="463.75" y="614.09"/><use href="#sc" x="487.65" y="614.09"/><use href="#sc" x="511.55" y="614.09"/><use href="#sc" x="535.45" y="614.09"/><use href="#sc" x="559.35" y="614.09"/><use href="#sc" x="583.25" y="614.09"/><use href="#sc" x="607.15" y="614.09"/><use href="#sc" x="631.05" y="614.09"/><use href="#sc" x="654.95" y="614.09"/><use href="#sc" x="678.85" y="614.09"/><use href="#sc" x="332.3" y="637.98"/><use href="#sc" x="356.2" y="637.98"/><use href="#sc" x="380.1" y="637.98"/><use href="#sc" x="404" y="637.98"/><use href="#sc" x="427.9" y="637.98"/><use href="#sc" x="451.8" y="637.98"/><use href="#sc" x="475.7" y="637.98"/><use href="#sc" x="499.6" y="637.98"/><use href="#sc" x="523.5" y="637.98"/><use href="#sc" x="547.4" y="637.98"/><use href="#sc" x="571.3" y="637.98"/><use href="#sc" x="595.2" y="637.98"/><use href="#sc" x="619.1" y="637.98"/><use href="#sc" x="643" y="637.98"/><use href="#sc" x="666.9" y="637.98"/><use href="#sc" x="320.35" y="661.87"/><use href="#sc" x="344.25" y="661.87"/><use href="#sc" x="368.15" y="661.87"/><use href="#sc" x="392.05" y="661.87"/><use href="#sc" x="415.95" y="661.87"/><use href="#sc" x="439.85" y="661.87"/><use href="#sc" x="463.75" y="661.87"/><use href="#sc" x="487.65" y="661.87"/><use href="#sc" x="511.55" y="661.87"/><use href="#sc" x="535.45" y="661.87"/><use href="#sc" x="559.35" y="661.87"/><use href="#sc" x="583.25" y="661.87"/><use href="#sc" x="607.15" y="661.87"/><use href="#sc" x="631.05" y="661.87"/><use href="#sc" x="654.95" y="661.87"/><use href="#sc" x="678.85" y="661.87"/><use href="#sc" x="332.3" y="685.76"/><use href="#sc" x="356.2" y="685.76"/><use href="#sc" x="380.1" y="685.76"/><use href="#sc" x="404" y="685.76"/><use href="#sc" x="427.9" y="685.76"/><use href="#sc" x="451.8" y="685.76"/><use href="#sc" x="475.7" y="685.76"/><use href="#sc" x="499.6" y="685.76"/><use href="#sc" x="523.5" y="685.76"/><use href="#sc" x="547.4" y="685.76"/><use href="#sc" x="571.3" y="685.76"/><use href="#sc" x="595.2" y="685.76"/><use href="#sc" x="619.1" y="685.76"/><use href="#sc" x="643" y="685.76"/><use href="#sc" x="666.9" y="685.76"/><use href="#sc" x="320.35" y="709.65"/><use href="#sc" x="344.25" y="709.65"/><use href="#sc" x="368.15" y="709.65"/><use href="#sc" x="392.05" y="709.65"/><use href="#sc" x="415.95" y="709.65"/><use href="#sc" x="439.85" y="709.65"/><use href="#sc" x="463.75" y="709.65"/><use href="#sc" x="487.65" y="709.65"/><use href="#sc" x="511.55" y="709.65"/><use href="#sc" x="535.45" y="709.65"/><use href="#sc" x="559.35" y="709.65"/><use href="#sc" x="583.25" y="709.65"/><use href="#sc" x="607.15" y="709.65"/><use href="#sc" x="631.05" y="709.65"/><use href="#sc" x="654.95" y="709.65"/><use href="#sc" x="678.85" y="709.65"/><use href="#sc" x="332.3" y="733.54"/><use href="#sc" x="356.2" y="733.54"/><use href="#sc" x="380.1" y="733.54"/><use href="#sc" x="404" y="733.54"/><use href="#sc" x="427.9" y="733.54"/><use href="#sc" x="451.8" y="733.54"/><use href="#sc" x="475.7" y="733.54"/><use href="#sc" x="499.6" y="733.54"/><use href="#sc" x="523.5" y="733.54"/><use href="#sc" x="547.4" y="733.54"/><use href="#sc" x="571.3" y="733.54"/><use href="#sc" x="595.2" y="733.54"/><use href="#sc" x="619.1" y="733.54"/><use href="#sc" x="643" y="733.54"/><use href="#sc" x="666.9" y="733.54"/><use href="#sc" x="320.35" y="757.43"/><use href="#sc" x="344.25" y="757.43"/><use href="#sc" x="368.15" y="757.43"/><use href="#sc" x="392.05" y="757.43"/><use href="#sc" x="415.95" y="757.43"/><use href="#sc" x="439.85" y="757.43"/><use href="#sc" x="463.75" y="757.43"/><use href="#sc" x="487.65" y="757.43"/><use href="#sc" x="511.55" y="757.43"/><use href="#sc" x="535.45" y="757.43"/><use href="#sc" x="559.35" y="757.43"/><use href="#sc" x="583.25" y="757.43"/><use href="#sc" x="607.15" y="757.43"/><use href="#sc" x="631.05" y="757.43"/><use href="#sc" x="654.95" y="757.43"/><use href="#sc" x="678.85" y="757.43"/></g>
<rect x="627" y="502.3" width="397" height="105.1" fill="#6e8663"/>
<rect x="627" y="630.2" width="397" height="105.5" fill="#6e8663"/>
<rect x="627" y="757.8" width="397" height="105.5" fill="#6e8663"/>
<g>
<text y="66.9" font-weight="bold" fill="#4e6b48" stroke="#4e6b48" stroke-width="1.5"><tspan x="162.93" font-size="54.2" textLength="41.27" lengthAdjust="spacingAndGlyphs">Н</tspan><tspan x="204.48" font-size="47" textLength="136.2" lengthAdjust="spacingAndGlyphs">абор</tspan><tspan x="342.26" font-size="47" textLength="371.16" lengthAdjust="spacingAndGlyphs"> декупажных</tspan><tspan x="713.72" font-size="47" textLength="143.26" lengthAdjust="spacingAndGlyphs"> карт</tspan></text>
<text y="119.2" font-weight="normal" fill="#4e6b48" stroke="#fff" stroke-width="1.0"><tspan x="421.53" font-size="46" textLength="26.04" lengthAdjust="spacingAndGlyphs">5</tspan><tspan x="445.97" font-size="44.5" textLength="154.57" lengthAdjust="spacingAndGlyphs"> листов</tspan></text>
<text y="547.8" font-weight="normal" fill="#fff" stroke="#6e8663" stroke-width="0.5"><tspan x="641.93" font-size="41.8" textLength="213.47" lengthAdjust="spacingAndGlyphs">авторский</tspan><tspan x="853.1" font-size="41.8" textLength="157.12" lengthAdjust="spacingAndGlyphs"> дизайн</tspan></text>
<text y="583.5" font-weight="bold" fill="#fff" stroke="#fff" stroke-width="1.1"><tspan x="645.9" font-size="31.8" textLength="87.14" lengthAdjust="spacingAndGlyphs">100%</tspan><tspan x="735.65" font-size="28.0" textLength="147.51" lengthAdjust="spacingAndGlyphs"> качество</tspan><tspan x="887.25" font-size="28.0" textLength="120.68" lengthAdjust="spacingAndGlyphs"> печати</tspan></text>
<text y="675.3" font-weight="normal" fill="#fff" stroke="#6e8663" stroke-width="0.5"><tspan x="640.07" font-size="35.8" textLength="224.66" lengthAdjust="spacingAndGlyphs">специальная</tspan><tspan x="861.91" font-size="35.8" textLength="140.44" lengthAdjust="spacingAndGlyphs"> бумага</tspan></text>
<text y="713" font-weight="bold" fill="#fff" stroke="#fff" stroke-width="1.4"><tspan x="642.57" font-size="30.1" textLength="116.34" lengthAdjust="spacingAndGlyphs">четкое</tspan><tspan x="760.73" font-size="30.1" textLength="251.13" lengthAdjust="spacingAndGlyphs"> изображение</tspan></text>
<text y="802" font-weight="normal" fill="#fff" stroke="#6e8663" stroke-width="0.5"><tspan x="641.32" font-size="36.0" textLength="110.23" lengthAdjust="spacingAndGlyphs">карты-</tspan><tspan x="750.27" font-size="36.0" textLength="217.64" lengthAdjust="spacingAndGlyphs">компаньоны</tspan></text>
<text y="841" font-weight="bold" fill="#fff" stroke="#fff" stroke-width="1.4"><tspan x="643.66" font-size="29.9" textLength="130.4" lengthAdjust="spacingAndGlyphs">единая</tspan><tspan x="776.06" font-size="29.9" textLength="177.11" lengthAdjust="spacingAndGlyphs"> тематика</tspan></text>
<text y="1001.2" font-weight="normal" fill="#000"><tspan x="317.87" font-size="33" textLength="132.16" lengthAdjust="spacingAndGlyphs">Формат</tspan><tspan x="455.2" font-size="33" textLength="47.73" lengthAdjust="spacingAndGlyphs"> А4</tspan><tspan x="505.93" font-size="33" textLength="130.99" lengthAdjust="spacingAndGlyphs"> (21*29,7</tspan><tspan x="635.43" font-size="33" textLength="69.47" lengthAdjust="spacingAndGlyphs"> см)</tspan></text>
</g>
</svg>
</body></html>
